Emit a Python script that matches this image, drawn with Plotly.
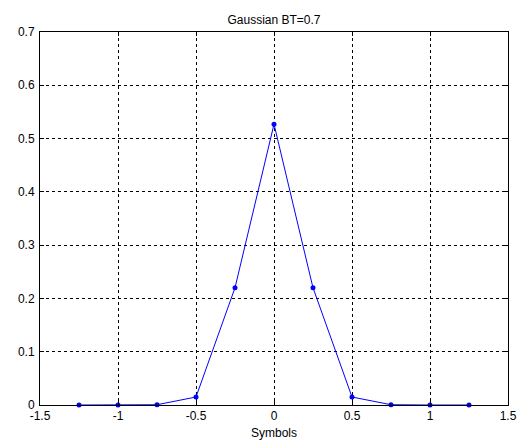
import plotly.graph_objects as go

x_vals = [-1.25, -1.0, -0.75, -0.5, -0.25, 0.0, 0.25, 0.5, 0.75, 1.0, 1.25]
y_vals = [0.0, 0.0, 0.0005, 0.015, 0.22, 0.527, 0.22, 0.015, 0.0005, 0.0, 0.0]
x_ticks = [-1.5, -1, -0.5, 0, 0.5, 1, 1.5]
x_tick_labels = ["-1.5", "-1", "-0.5", "0", "0.5", "1", "1.5"]
y_ticks = [0, 0.1, 0.2, 0.3, 0.4, 0.5, 0.6, 0.7]
y_tick_labels = ["0", "0.1", "0.2", "0.3", "0.4", "0.5", "0.6", "0.7"]

fig = go.Figure()
fig.add_trace(go.Scatter(
    x=x_vals, y=y_vals, mode="lines+markers",
    line=dict(color="#0000ff", width=1),
    marker=dict(color="#0000ff", size=5),
    showlegend=False, cliponaxis=False,
))

axis_common = dict(
    showline=True, linecolor="black", linewidth=1, mirror="ticks",
    ticks="inside", ticklen=4, tickcolor="black",
    showgrid=True, gridcolor="black", griddash="dot", gridwidth=1,
    zeroline=False, tickfont=dict(size=12, color="black"),
    automargin=False,
)

fig.update_xaxes(range=[-1.5, 1.5], tickvals=x_ticks, ticktext=x_tick_labels,
                 title=dict(text="Symbols", font=dict(size=12, color="black"), standoff=6),
                 **axis_common)
fig.update_yaxes(range=[0, 0.7], tickvals=y_ticks, ticktext=y_tick_labels,
                 ticklabelstandoff=2, **axis_common)

fig.update_layout(
    width=532, height=443,
    margin=dict(l=40, r=24, t=32, b=38),
    paper_bgcolor="white", plot_bgcolor="white",
    font=dict(family="Liberation Sans, Arial, sans-serif", size=12, color="black"),
    title=dict(text="Gaussian BT=0.7", x=0.5, xanchor="center", xref="paper",
               y=1, yref="paper", yanchor="bottom", pad=dict(b=8),
               font=dict(size=12, color="black")),
)

fig.write_html("out.html")
